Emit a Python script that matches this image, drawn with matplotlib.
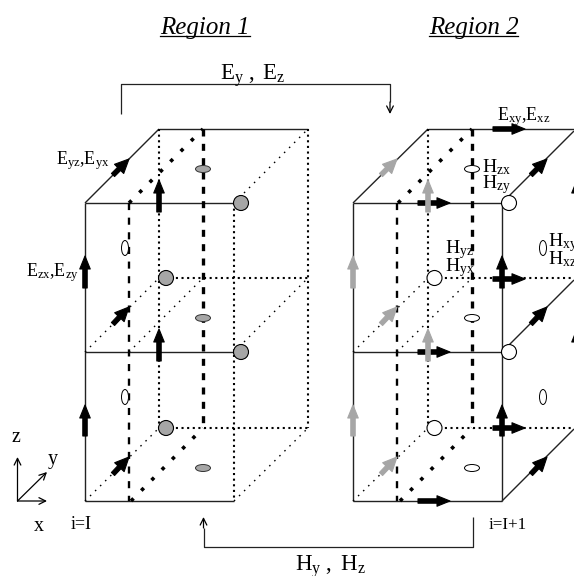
import matplotlib
matplotlib.use('Agg')
import matplotlib.pyplot as plt
from matplotlib.patches import Ellipse, Circle

plt.rcParams['font.family'] = ['Liberation Serif', 'DejaVu Serif']
plt.rcParams['mathtext.fontset'] = 'custom'
plt.rcParams['mathtext.rm'] = 'Liberation Serif'
plt.rcParams['mathtext.it'] = 'Liberation Serif:italic'

solid_lines = [
    [(85, 203), (234, 203)], [(85, 352), (234, 352)], [(85, 501), (234, 501)],
    [(85, 203), (85, 501)], [(85, 203), (159, 129)], [(159, 129), (308, 129)],
    [(353, 203), (502, 203)], [(353, 352), (502, 352)], [(353, 501), (502, 501)],
    [(353, 203), (353, 501)], [(502, 203), (502, 501)], [(353, 203), (428, 129)],
    [(428, 129), (574, 129)], [(502, 203), (574, 131)], [(502, 352), (574, 280)],
    [(502, 501), (574, 429)],
]
dotted_lines = [
    [(159, 129), (159, 428)], [(234, 203), (234, 501)], [(308, 129), (308, 428)],
    [(159, 278), (308, 278)], [(159, 428), (308, 428)],
    [(428, 129), (428, 428)], [(428, 278), (574, 278)], [(428, 428), (574, 428)],
]
thin_diagonals = [
    [(85, 352), (159, 278)], [(85, 501), (159, 428)], [(129, 352), (203, 278)],
    [(234, 203), (308, 129)], [(234, 352), (308, 278)], [(234, 501), (308, 428)],
    [(353, 352), (428, 278)], [(353, 501), (428, 428)], [(397, 352), (472, 278)],
]
thick_diagonals = [
    [(129, 203), (203, 129)], [(131, 501), (203, 428)],
    [(398, 203), (472, 129)], [(400, 501), (472, 428)],
]
medium_dashes = [[(129, 203), (129, 501)], [(397, 203), (397, 501)]]
heavy_dashes = [[(203, 129), (203, 428)], [(472, 129), (472, 428)]]

black_arrows = [
    ((113, 175), (129, 159)), ((113, 324), (129, 307)), ((113, 474), (129, 457)),
    ((85, 288), (85, 256)), ((85, 436), (85, 405)),
    ((159, 212), (159, 180)), ((159, 361), (159, 329)),
    ((418, 203), (450, 203)), ((418, 352), (450, 352)), ((418, 501), (450, 501)),
    ((493, 129), (525, 129)), ((493, 279), (525, 279)), ((493, 428), (525, 428)),
    ((502, 288), (502, 256)), ((502, 436), (502, 405)),
    ((531, 175), (547, 159)), ((531, 324), (547, 307)), ((531, 474), (547, 457)),
    ((577, 212), (577, 180)), ((577, 361), (577, 329)),
]
grey_arrows = [
    ((381, 175), (397, 159)), ((381, 324), (397, 307)), ((381, 474), (397, 457)),
    ((353, 288), (353, 256)), ((353, 436), (353, 405)),
    ((428, 212), (428, 180)), ((428, 361), (428, 329)),
]

grey_circles = [(241, 203), (166, 278), (241, 352), (166, 428)]
white_circles = [(509, 203), (434.5, 278), (509, 352), (434.5, 428)]
grey_flat = [(203, 169), (203, 318), (203, 468)]
white_flat = [(472, 169), (472, 318), (472, 468)]
white_tall = [(125, 248), (125, 397), (543, 248), (543, 397)]

top_bracket = [(121, 114), (121, 84), (390, 84), (390, 102)]
top_bracket_tip = (390, 114)
bottom_bracket = [(473, 517), (473, 547), (203.5, 547), (203.5, 528)]
bottom_bracket_tip = (203.5, 517)

axes_origin = (17.5, 501)
axes_tips = [(17.5, 457), (47, 501), (47, 472)]

region_labels = [('Region 1', 160, 250), ('Region 2', 429, 518)]
big_labels = [(r'$\mathrm{E_{y}\ ,\ E_{z}}$', 220, 80), (r'$\mathrm{H_{y}\ ,\ H_{z}}$', 295, 571)]
e_labels = [
    (r'$\mathrm{E_{yz}{,}E_{yx}}$', 56, 164), (r'$\mathrm{E_{zx}{,}E_{zy}}$', 26, 276),
    (r'$\mathrm{E_{xy}{,}E_{xz}}$', 497, 120),
]
h_labels = [
    (r'$\mathrm{H_{zx}}$', 482, 172), (r'$\mathrm{H_{zy}}$', 482, 188),
    (r'$\mathrm{H_{yz}}$', 445, 253), (r'$\mathrm{H_{yx}}$', 445, 271),
    (r'$\mathrm{H_{xy}}$', 548, 246), (r'$\mathrm{H_{xz}}$', 548, 264),
]
plain_labels = [('z', 11, 442, 20), ('y', 48, 464, 20), ('x', 34, 531, 20),
                ('i=I', 71, 529, 18), ('i=I+1', 489, 529, 17)]

fig = plt.figure(figsize=(5.74, 5.76), dpi=100)
ax = fig.add_axes([0, 0, 1, 1])
ax.set_xlim(0, 574)
ax.set_ylim(576, 0)
ax.axis('off')


def draw(segs, lw, dashes=None, color='black'):
    for seg in segs:
        xs = [p[0] for p in seg]
        ys = [p[1] for p in seg]
        line, = ax.plot(xs, ys, color=color, lw=lw, solid_capstyle='butt', zorder=2)
        if dashes:
            line.set_dashes(dashes)
            line.set_dash_capstyle('butt')


draw(solid_lines, 1.0, color='#222222')
draw(dotted_lines, 1.5, (1.0, 1.7))
draw(thin_diagonals, 1.0, (1.1, 4.0))
draw(thick_diagonals, 2.6, (1.0, 3.05))
draw(medium_dashes, 1.7, (3.0, 3.2))
draw(heavy_dashes, 2.4, (2.1, 2.2))

for color, arrows in (('black', black_arrows), ('#a6a6a6', grey_arrows)):
    for tail, tip in arrows:
        diagonal = tail[0] != tip[0] and tail[1] != tip[1]
        ax.arrow(tail[0], tail[1], tip[0] - tail[0], tip[1] - tail[1], width=4.4,
                 head_width=13 if diagonal else 10.5, head_length=14 if diagonal else 13,
                 length_includes_head=True, fc=color, ec=color, lw=0.8,
                 joinstyle='round', zorder=4)

for c in grey_circles:
    ax.add_patch(Circle(c, 7.5, fc='#a6a6a6', ec='black', lw=0.8, zorder=5))
for c in white_circles:
    ax.add_patch(Circle(c, 7.5, fc='white', ec='black', lw=0.8, zorder=5))
for c in grey_flat:
    ax.add_patch(Ellipse(c, 15, 7, fc='#a6a6a6', ec='#333333', lw=0.7, zorder=5))
for c in white_flat:
    ax.add_patch(Ellipse(c, 15, 7, fc='white', ec='black', lw=0.7, zorder=5))
for c in white_tall:
    ax.add_patch(Ellipse(c, 7, 15, fc='white', ec='black', lw=0.7, zorder=5))

open_head = dict(arrowstyle='->', lw=0.9, color='black', shrinkA=0, shrinkB=0, mutation_scale=12)
draw([top_bracket, bottom_bracket], 0.9, color='#222222')
ax.annotate('', xy=top_bracket_tip, xytext=top_bracket[-1], arrowprops=open_head)
ax.annotate('', xy=bottom_bracket_tip, xytext=bottom_bracket[-1], arrowprops=open_head)
for tip in axes_tips:
    ax.annotate('', xy=tip, xytext=axes_origin, arrowprops=open_head)

for s, x0, x1 in region_labels:
    ax.text(x0, 34, s, style='italic', fontsize=18, va='baseline', ha='left')
    ax.plot([x0, x1], [35.5, 35.5], color='black', lw=0.9)
for s, x, y in big_labels:
    ax.text(x, y, s, fontsize=16.5, va='baseline', ha='left')
for s, x, y in e_labels:
    ax.text(x, y, s, fontsize=13, va='baseline', ha='left', zorder=6)
for s, x, y in h_labels:
    ax.text(x, y, s, fontsize=14, va='baseline', ha='left', zorder=6)
for s, x, y, px in plain_labels:
    ax.text(x, y, s, fontsize=px * 0.72, va='baseline', ha='left')

fig.savefig('out.png', dpi=100)
